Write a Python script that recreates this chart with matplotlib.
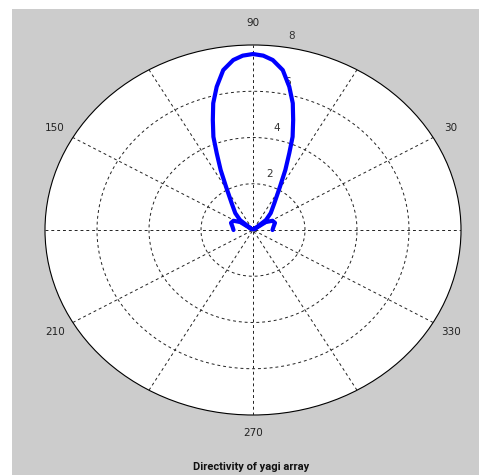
import numpy as np
import matplotlib
matplotlib.use("Agg")
import matplotlib.pyplot as plt
from matplotlib.patches import Ellipse, Rectangle

# ---- data ----
theta_deg = [0, 10, 20, 28, 35, 38, 40.8, 47, 54.7, 61, 64.4, 67.2, 69.3, 72, 74.4, 77.3, 80.6, 84.1,
             87, 90, 93,
             95.9, 99.4, 102.7, 105.6, 108, 110.7, 112.8, 115.6, 119, 125.3, 133, 139.2,
             142, 145, 152, 160, 170, 180]
r_vals = [0.75, 0.8, 0.9, 0.85, 0.6, 0.05, 0.66, 1.0, 1.42, 2.14, 2.88, 3.60, 4.31, 5.00, 5.69, 6.35, 7.01, 7.39,
          7.55, 7.61, 7.55,
          7.39, 7.01, 6.35, 5.69, 5.00, 4.31, 3.60, 2.88, 2.14, 1.42, 1.0, 0.66,
          0.05, 0.6, 0.85, 0.9, 0.8, 0.75]
ring_vals = [2, 4, 6, 8]
ring_labels = ["2", "4", "6", "8"]
angle_label_vals = [30, 90, 150, 210, 270, 330]
angle_labels = ["30", "90", "150", "210", "270", "330"]
title = "Directivity of yagi array"
rmax = 8

W, H = 479, 475
fig = plt.figure(figsize=(W / 100, H / 100), dpi=100)
fig.patch.set_facecolor("white")
bg = Rectangle((12 / W, 0), 1 - 12 / W, 1 - 9 / H,
               transform=fig.transFigure, facecolor="#cccccc",
               edgecolor="none", zorder=-10)
fig.patches.append(bg)

# axes: x -8..8 -> px 45..461, y -8..8 -> px 415..45
ax = fig.add_axes([45 / W, (H - 415) / H, 416 / W, 370 / H])
ax.set_zorder(5)
ax.set_xlim(-rmax, rmax)
ax.set_ylim(-rmax, rmax)
ax.axis("off")
ax.patch.set_alpha(0)

ax.add_patch(Ellipse((0, 0), 2 * rmax, 2 * rmax, facecolor="white",
                     edgecolor="black", lw=0.8, zorder=1, clip_on=False))
t = np.linspace(0, 2 * np.pi, 400)
for rv in ring_vals[:-1]:
    ax.plot(rv * np.cos(t), rv * np.sin(t), color="#222222", lw=0.7,
            ls=(0, (3, 3)), zorder=2)
for a in range(0, 180, 30):
    ar = np.deg2rad(a)
    ax.plot([-rmax * np.cos(ar), rmax * np.cos(ar)],
            [-rmax * np.sin(ar), rmax * np.sin(ar)],
            color="#222222", lw=0.7, ls=(0, (3, 3)), zorder=2)

# radial labels
lab_x = [0.654, 0.923, 1.33, 1.49]
lab_y = [2.42, 4.41, 6.40, 8.39]
for lx, ly, s in zip(lab_x, lab_y, ring_labels):
    ax.text(lx, ly, s, ha="center", va="center", fontsize=7.5, color="#333333",
            zorder=3, clip_on=False)

for a, s in zip(angle_label_vals, angle_labels):
    ar = np.deg2rad(a)
    rr = 1.1 * rmax + (0.15 if a == 90 else 0)
    ax.text(rr * np.cos(ar), rr * np.sin(ar), s, ha="center", va="center",
            fontsize=7.5, color="#222222", zorder=3, clip_on=False)

th = np.deg2rad(np.array(theta_deg))
r = np.array(r_vals)
ax.plot(r * np.cos(th), r * np.sin(th), color="#0000ff", lw=3.0, zorder=4,
        solid_joinstyle="round", solid_capstyle="round")

fig.text(251 / W, 1 - 467 / H, title, ha="center", va="center",
         fontsize=8, fontweight="bold", family="Roboto", color="#111111")

fig.savefig("out.png", dpi=100, facecolor=fig.get_facecolor())
